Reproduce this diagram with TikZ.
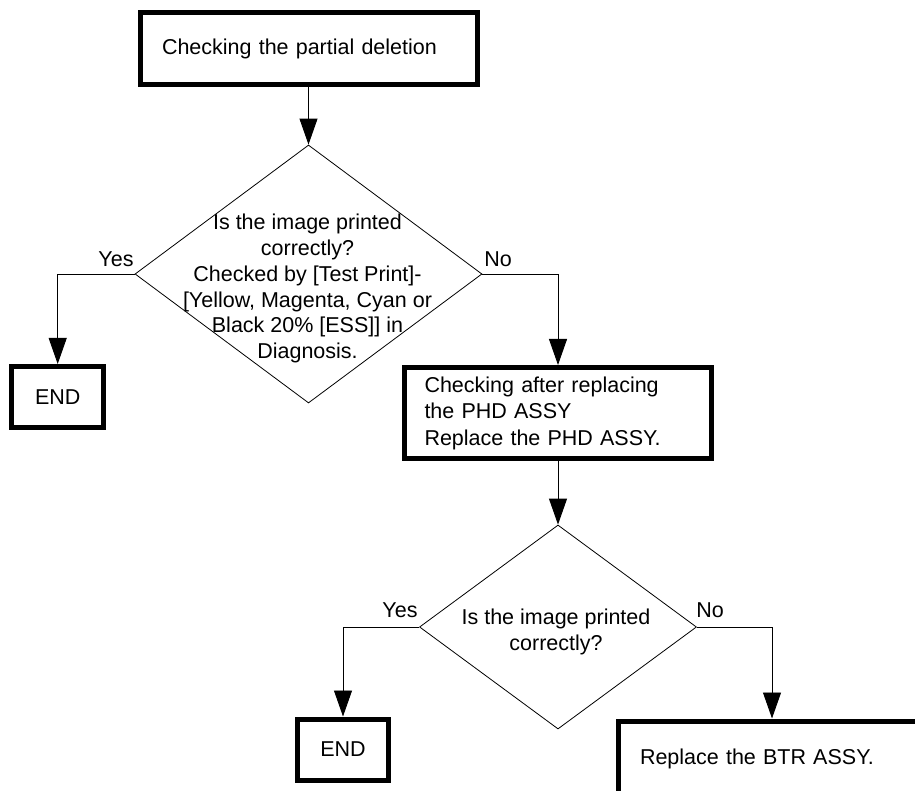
\documentclass[tikz,border=0pt]{standalone}
\usepackage{fontspec}
\setmainfont{Liberation Sans}
\usetikzlibrary{shapes.geometric,arrows.meta}
\begin{document}
\begin{tikzpicture}[x=1pt,y=-1pt,
  every node/.style={font=\fontsize{21.5}{25.8}\selectfont},
  thickbox/.style={draw, line width=5pt, rectangle, inner sep=0pt},
  dia/.style={draw, diamond, line width=0.8pt, inner sep=0pt},
  conn/.style={line width=0.9pt, -{Triangle[length=26pt,width=18pt]}},
  lbl/.style={inner sep=0pt}
]
\useasboundingbox (0,0) rectangle (915,791);
\clip (0,0) rectangle (915,791);

% boxes
\node[thickbox, minimum width=337pt, minimum height=72pt, text width=293pt, align=left] (b1) at (308.5,48.5) {Checking the partial deletion};
\node[thickbox, minimum width=307pt, minimum height=91pt, text width=267pt, align=left,
      font=\fontsize{21.5}{26.5}\selectfont] (b2) at (558,413) {Checking after replacing\\the PHD ASSY\\Replace the PHD ASSY.};
\node[thickbox, minimum width=91.5pt, minimum height=61pt] (e1) at (57.7,397) {END};
\node[thickbox, minimum width=91pt, minimum height=61pt] (e2) at (343,749.5) {END};
\node[thickbox, minimum width=308pt, minimum height=76pt, text width=264pt, align=left] (b3) at (772,759) {Replace the BTR ASSY.};

% diamonds
\node[dia, minimum width=347pt, minimum height=258pt] (d1) at (308.5,274) {};
\node[align=center, lbl] (t1) at (307.5,288.6) {Is the image printed\\correctly?\\Checked by {[}Test Print{]}-\\{[}Yellow, Magenta, Cyan or\\Black 20\% {[}ESS{]}{]} in\\Diagnosis.};
\node[dia, minimum width=277pt, minimum height=204pt] (d2) at (558,627) {};
\node[align=center, lbl] (t2) at (556,631.6) {Is the image printed\\correctly?};

% labels
\node[lbl] (y1) at (116,259) {Yes};
\node[lbl] (n1) at (498,259) {No};
\node[lbl] (y2) at (400,610) {Yes};
\node[lbl] (n2) at (710,610) {No};

% connectors
\draw[conn] (b1.south) -- (d1.north);
\draw[conn] (d1.west) -| (e1.north);
\draw[conn] (d1.east) -| (b2.north);
\draw[conn] (b2.south) -- (d2.north);
\draw[conn] (d2.west) -| (e2.north);
\draw[conn] (d2.east) -| (b3.north);
\end{tikzpicture}
\end{document}
